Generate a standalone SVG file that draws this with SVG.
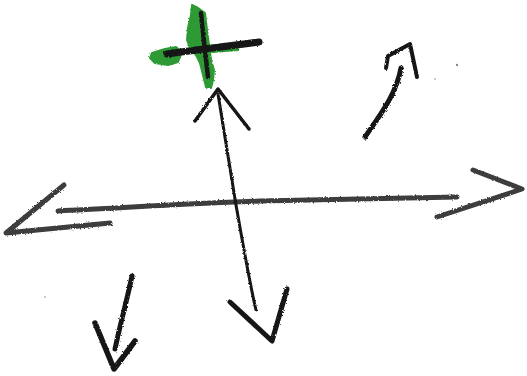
<svg xmlns="http://www.w3.org/2000/svg" width="527" height="376" viewBox="0 0 527 376">
  <style>
    .ink { fill: none; stroke: #151515; stroke-linecap: round; stroke-linejoin: round; }
    .grey { fill: none; stroke: #3c3c3c; stroke-linecap: round; stroke-linejoin: round; }
    .green { fill: #2f9a34; stroke: #2f9a34; stroke-width: 2; stroke-linejoin: round; }
  </style>
  <defs>
    <filter id="rough" x="-10%" y="-10%" width="120%" height="120%">
      <feTurbulence type="fractalNoise" baseFrequency="0.6" numOctaves="2" seed="3" result="n"/>
      <feDisplacementMap in="SourceGraphic" in2="n" scale="2.5"/>
    </filter>
  </defs>
  <rect width="527" height="376" fill="#ffffff"/>

  <g id="plus" filter="url(#rough)">
    <path class="green" d="M192 5 L198 8 L205 13 L207 30 L209 45 L211 60 L214 70 L213 80 L211 88 L206 87 L203 75 L200 63 L196 55 L190 48 L187 40 L188 28 L191 15 Z"/>
    <path class="green" d="M152 53 L165 49 L176 47 L182 52 L178 62 L168 65 L155 63 L150 58 Z"/>
    <path class="green" d="M210 46 L235 44 L238 50 L212 52 Z"/>
    <path class="ink" d="M201 13 C203 35 206 58 208 77" stroke-width="4.5"/>
    <path class="ink" d="M167 54 C195 50 230 46 259 42" stroke-width="7"/>
  </g>

  <g id="connectors" filter="url(#rough)">
    <!-- horizontal double arrow -->
    <path class="grey" d="M58 211 C120 208 200 203 260 201 C340 199 400 198 457 197" stroke-width="5"/>
    <path class="grey" d="M64 185 L6 233 L110 223" stroke-width="5"/>
    <path class="grey" d="M473 170 L522 189 L437 217" stroke-width="5"/>

    <!-- vertical double arrow -->
    <path class="ink" d="M218 94 C224 130 230 170 236 205 C244 250 250 285 256 310" stroke-width="3"/>
    <path class="ink" d="M195 121 L218 89 L249 129" stroke-width="3.5"/>
    <path class="ink" d="M230 302 L272 341 L287 289" stroke-width="5"/>

    <!-- upper right arrow -->
    <path class="ink" d="M365 137 C380 115 396 95 401 68" stroke-width="5"/>
    <path class="ink" d="M386 68 L388 56 L410 44 L417 77" stroke-width="4"/>

    <!-- lower left arrow -->
    <path class="ink" d="M132 276 C127 300 120 325 115 349" stroke-width="5"/>
    <path class="ink" d="M95 323 L114 369 L135 341" stroke-width="5.5"/>
  </g>

  <g id="specks" fill="#888">
    <circle cx="457" cy="65" r="1.2"/>
    <circle cx="435" cy="79" r="0.8"/>
    <circle cx="45" cy="297" r="0.8"/>
  </g>
</svg>
